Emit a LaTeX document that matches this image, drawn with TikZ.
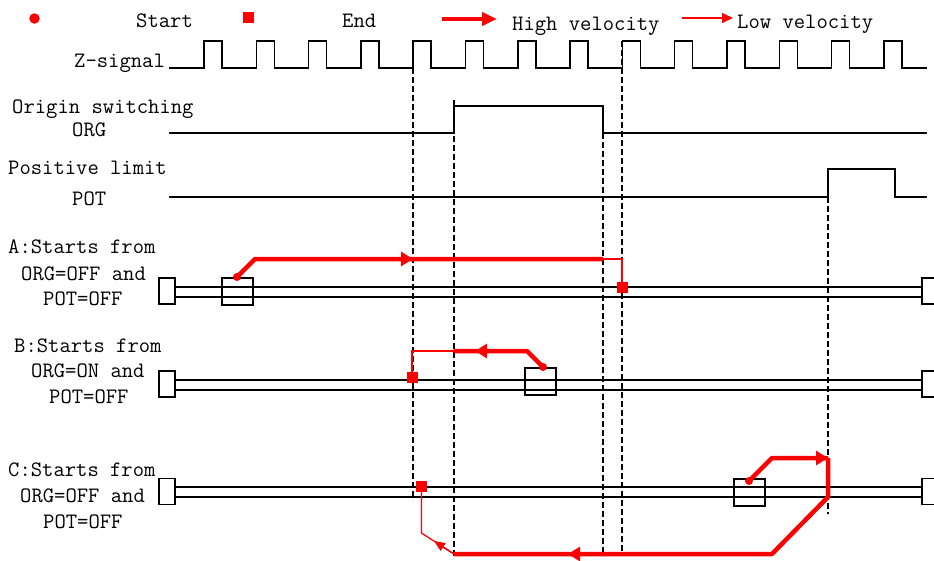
\documentclass[tikz,border=0pt]{standalone}
\usepackage{fontspec}
\usetikzlibrary{arrows.meta}
\begin{document}
\begin{tikzpicture}[x=1pt,y=-1pt,
  lbl/.style={font=\ttfamily\fontsize{22}{24}\selectfont, inner sep=0pt, anchor=base west},
  sig/.style={line width=1.5pt},
  guide/.style={line width=2.3pt, dash pattern=on 6pt off 3pt},
  rail/.style={line width=1.5pt},
  fast/.style={red, line width=4.5pt},
  slow/.style={red, line width=1.3pt},
  fasttip/.style={-{Triangle[length=12pt,width=14pt]}},
  slowtip/.style={-{Triangle[length=11pt,width=9pt]}},
  startdot/.style={circle, fill=red, minimum size=8pt, inner sep=0pt},
  endsq/.style={rectangle, fill=red, minimum size=11pt, inner sep=0pt},
  slider/.style={rectangle, draw, line width=1.4pt, minimum width=31pt, minimum height=27pt, inner sep=0pt},
  stopbox/.style={rectangle, draw, line width=1.4pt, fill=white, minimum width=16pt, minimum height=26pt, inner sep=0pt}
]
\useasboundingbox (0,0) rectangle (934,560);
\clip (0,0) rectangle (934,560);

% ---------- legend ----------
\node[startdot, minimum size=10.5pt] (lgDot) at (34.5,18.5) {};
\node[lbl] (tStart) at (136,27) {Start};
\node[endsq] (lgSq) at (248.5,17) {};
\node[lbl] (tEnd) at (342,27) {End};
\coordinate (lgF1) at (442,19);
\coordinate (lgF2) at (497,19);
\draw[red, line width=4pt, -{Triangle[length=15pt,width=13pt]}] (lgF1) -- (lgF2);
\node[lbl] (tHigh) at (512,30) {High velocity};
\coordinate (lgS1) at (682,18);
\coordinate (lgS2) at (733,18);
\draw[red, line width=1.5pt, -{Triangle[length=11pt,width=10pt]}] (lgS1) -- (lgS2);
\node[lbl] (tLow) at (737,28) {Low velocity};

% ---------- signal labels ----------
\node[lbl] (tZ) at (74,67) {Z-signal};
\node[lbl] (tOrg1) at (12,113) {Origin switching};
\node[lbl] (tOrg2) at (72,136) {ORG};
\node[lbl] (tPot1) at (8,174) {Positive limit};
\node[lbl] (tPot2) at (72,205) {POT};

% ---------- Z signal ----------
\draw[sig] (169,68) foreach \k in {0,...,13}{
   -- ({204+52.3*\k},68) -- ({204+52.3*\k},41) -- ({222+52.3*\k},41) -- ({222+52.3*\k},68) } -- (927,68);

% ---------- ORG ----------
\draw[sig] (169,133) -- (454,133) -- (454,106) -- (603,106) -- (603,133) -- (927,133);
% ---------- POT ----------
\draw[sig] (169,197) -- (828,197) -- (828,169) -- (895,169) -- (895,197) -- (927,197);

% ---------- case labels ----------
\node[lbl] (tA1) at (8,253) {A:Starts from};
\node[lbl] (tA2) at (21,280) {ORG=OFF and};
\node[lbl] (tA3) at (43,305) {POT=OFF};
\node[lbl] (tB1) at (14,352) {B:Starts from};
\node[lbl] (tB2) at (31,377) {ORG=ON and};
\node[lbl] (tB3) at (49,403) {POT=OFF};
\node[lbl] (tC1) at (8,476) {C:Starts from};
\node[lbl] (tC2) at (20,502) {ORG=OFF and};
\node[lbl] (tC3) at (43,528) {POT=OFF};

% ---------- rails ----------
\foreach \n/\y in {A/287, B/380, C/487}{
  \draw[rail] (175,\y) -- (922,\y);
  \draw[rail] (175,\y+10) -- (922,\y+10);
}
\node[stopbox] (aL) at (167,291) {};
\node[stopbox] (aR) at (930,291) {};
\node[stopbox] (bL) at (167,384) {};
\node[stopbox] (bR) at (930,384) {};
\node[stopbox] (cL) at (167,491.5) {};
\node[stopbox] (cR) at (930,491.5) {};

\node[slider] (aBox) at (237.5,291.5) {};
\node[slider] (bBox) at (540.5,381.5) {};
\node[slider] (cBox) at (749.5,492.5) {};

% ---------- guide lines ----------
\coordinate (g1t) at (413,41);   \coordinate (g1b) at (413,500);
\coordinate (g2t) at (454,100);  \coordinate (g2b) at (454,556);
\coordinate (g3t) at (603,133);  \coordinate (g3b) at (603,556);
\coordinate (g4t) at (622,41);   \coordinate (g4b) at (622,556);
\coordinate (g5t) at (828,197);  \coordinate (g5b) at (828,514);
\foreach \i in {1,...,5}{ \draw[guide] (g\i t) -- (g\i b); }

% ---------- case A ----------
\node[startdot] (aS) at (237,277) {};
\node[endsq] (aE) at (622,287) {};
\coordinate (a1) at (255,259);
\coordinate (a2) at (413,259);
\coordinate (a3) at (603,259);
\coordinate (a4) at (622,259);
\draw[fast, line join=round] (aS.center) -- (a1) -- (a3);
\draw[fast, fasttip] (a1) -- (a2);
\draw[slow] (a3) -- (a4) -- (aE.center);

% ---------- case B ----------
\node[startdot] (bS) at (543,367) {};
\node[endsq] (bE) at (412,377) {};
\coordinate (b1) at (527,351);
\coordinate (b2) at (475,351);
\coordinate (b3) at (454,351);
\coordinate (b4) at (412,351);
\draw[fast, line join=round] (bS.center) -- (b1) -- (b3);
\draw[fast, fasttip] (b1) -- (b2);
\draw[slow] (b3) -- (b4) -- (bE.center);

% ---------- case C ----------
\node[startdot] (cS) at (749,481) {};
\node[endsq] (cE) at (421.5,486.5) {};
\coordinate (c1) at (772,458);
\coordinate (c2) at (828,458);
\coordinate (c3) at (828,497);
\coordinate (c4) at (772,554);
\coordinate (c5) at (568,554);
\coordinate (c6) at (454,554);
\coordinate (c7) at (434,541);
\coordinate (c8) at (421.5,533);
\draw[fast, line join=round] (cS.center) -- (c1) -- (c2);
\draw[fast, fasttip] (c1) -- (c2);
\draw[fast, line join=round] (c2) -- (c3) -- (c4) -- (c6);
\draw[fast, fasttip] (c4) -- (c5);
\draw[slow, slowtip] (c6) -- (c7);
\draw[slow] (c6) -- (c8) -- (cE.center);
\end{tikzpicture}
\end{document}
